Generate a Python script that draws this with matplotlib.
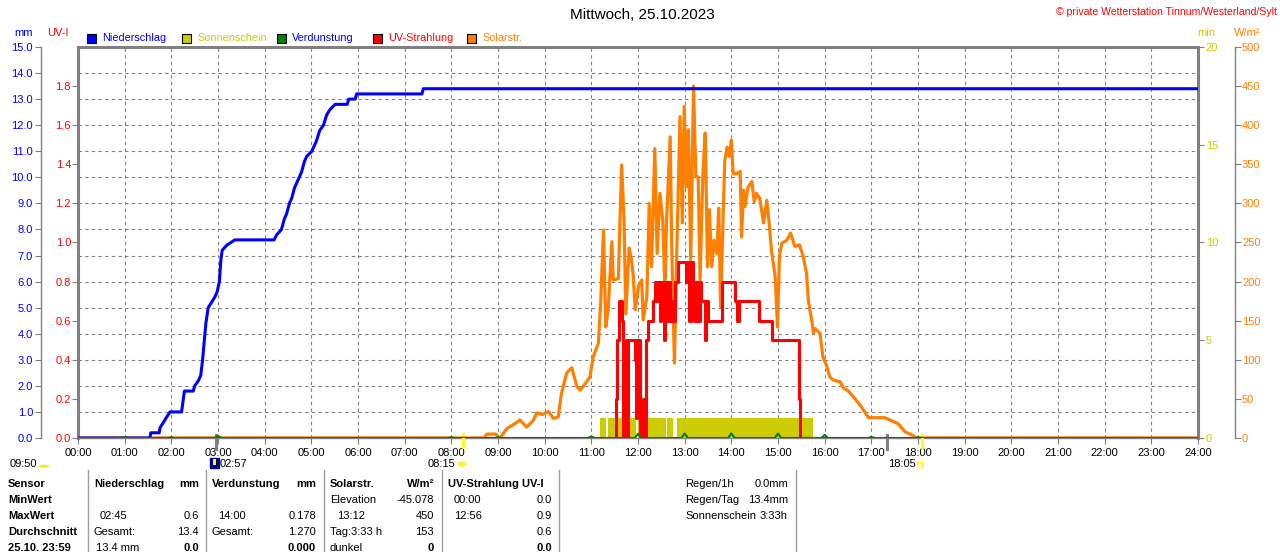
import matplotlib
matplotlib.use('Agg')
import matplotlib.pyplot as plt
from matplotlib.patches import Rectangle, Circle, Wedge
from matplotlib.lines import Line2D
import numpy as np

plt.rcParams['font.family'] = ['Liberation Sans', 'DejaVu Sans']
plt.rcParams['font.size'] = 8

# ---------------- data ----------------
hour_labels = [f"{h:02d}:00" for h in range(25)]

# Niederschlag (cumulative, mm)
rain_t = [0.0, 1.54, 1.56, 1.74, 1.76, 1.83, 1.90, 1.97, 2.22, 2.25, 2.28, 2.47, 2.50, 2.58,
          2.63, 2.67, 2.71, 2.74, 2.79, 2.86, 2.93, 2.98, 3.03, 3.06, 3.09, 3.19, 3.36,
          4.20, 4.26, 4.36, 4.42, 4.47, 4.53, 4.58, 4.64, 4.69, 4.74, 4.79, 4.85, 4.90,
          5.01, 5.06, 5.11, 5.18, 5.26, 5.33, 5.40, 5.51, 5.77, 5.80, 5.94, 5.97, 7.37,
          7.40, 24.0]
rain_mm = [0.0, 0.0, 0.2, 0.2, 0.4, 0.6, 0.8, 1.0, 1.0, 1.4, 1.8, 1.8, 2.0, 2.2,
           2.4, 3.0, 3.8, 4.4, 5.0, 5.2, 5.4, 5.6, 6.0, 6.8, 7.2, 7.4, 7.6,
           7.6, 7.8, 8.0, 8.4, 8.6, 9.0, 9.2, 9.6, 9.8, 10.0, 10.2, 10.6, 10.8,
           11.0, 11.2, 11.4, 11.8, 12.0, 12.4, 12.6, 12.8, 12.8, 13.0, 13.0, 13.2, 13.2,
           13.4, 13.4]

# Verdunstung (mm) hourly values
evap_hours = [1, 2, 3, 8, 9, 11, 12, 13, 14, 15, 16, 17, 18]
evap_vals = [0.03, 0.03, 0.08, 0.03, 0.03, 0.06, 0.16, 0.17, 0.178, 0.17, 0.12, 0.04, 0.03]

# Sonnenschein (min) intervals
sun_start = [11.186, 11.36, 11.99, 12.63, 12.84]
sun_end = [11.31, 11.96, 12.60, 12.75, 15.75]
sun_val = [1, 1, 1, 1, 1]

# UV-Strahlung (UV-I)
uv_t = [0.0, 11.53, 11.56, 11.60, 11.65, 11.68, 11.74, 11.76, 11.79, 11.93, 11.96, 11.98,
        12.01, 12.03, 12.05, 12.10, 12.13, 12.17, 12.21, 12.33, 12.37, 12.40, 12.43, 12.47,
        12.50, 12.55, 12.58, 12.62, 12.66, 12.69, 12.73, 12.76, 12.80, 12.86, 13.03, 13.06,
        13.10, 13.13, 13.17, 13.20, 13.24, 13.28, 13.32, 13.36, 13.43, 13.46, 13.50, 13.80,
        14.07, 14.12, 14.16, 14.60, 14.87, 15.44, 15.48, 24.0]
uv_v = [0.0, 0.2, 0.5, 0.7, 0.6, 0.0, 0.5, 0.0, 0.5, 0.4, 0.1, 0.5,
        0.3, 0.5, 0.0, 0.2, 0.0, 0.5, 0.6, 0.7, 0.8, 0.7, 0.8, 0.6,
        0.8, 0.5, 0.8, 0.6, 0.8, 0.6, 0.7, 0.6, 0.8, 0.9, 0.8, 0.9,
        0.6, 0.9, 0.8, 0.6, 0.8, 0.6, 0.8, 0.7, 0.5, 0.7, 0.6, 0.8,
        0.7, 0.6, 0.7, 0.6, 0.5, 0.2, 0.0, 0.0]

# Solarstrahlung (W/m2)
solar_t = [0.0, 8.70, 8.76, 8.95, 9.04, 9.19, 9.35, 9.47, 9.61, 9.75, 9.83, 9.95, 10.08,
           10.19, 10.29, 10.36, 10.47, 10.58, 10.69, 10.76, 10.90, 10.97, 11.04, 11.15,
           11.20, 11.26, 11.31, 11.36, 11.44, 11.47, 11.58, 11.61, 11.65, 11.70, 11.74,
           11.81, 11.86, 11.90, 11.94, 12.01, 12.08, 12.11, 12.19, 12.24, 12.29, 12.36,
           12.41, 12.47, 12.53, 12.58, 12.61, 12.69, 12.72, 12.78, 12.83, 12.90, 12.95,
           12.99, 13.04, 13.08, 13.13, 13.19, 13.24, 13.29, 13.33, 13.39, 13.44, 13.49,
           13.53, 13.58, 13.63, 13.69, 13.73, 13.77, 13.83, 13.86, 13.91, 13.96, 14.00,
           14.04, 14.11, 14.19, 14.22, 14.26, 14.29, 14.36, 14.44, 14.49, 14.54, 14.61,
           14.69, 14.76, 14.81, 14.86, 14.94, 14.99, 15.03, 15.08, 15.19, 15.27, 15.36,
           15.46, 15.54, 15.61, 15.65, 15.72, 15.76, 15.79, 15.90, 15.96, 16.04, 16.11,
           16.19, 16.33, 16.40, 16.51, 16.61, 16.76, 16.94, 17.29, 17.40, 17.58, 17.72,
           17.90, 17.95, 24.0]
solar_w = [0, 0, 5, 5, 0, 12, 18, 23, 14, 22, 32, 30, 34,
           25, 27, 57, 83, 90, 66, 61, 72, 78, 104, 121,
           172, 266, 142, 164, 251, 202, 204, 270, 349, 279, 159,
           243, 228, 206, 164, 194, 202, 151, 181, 300, 219, 370,
           236, 313, 279, 185, 275, 385, 253, 96, 236, 411, 275,
           424, 321, 394, 228, 450, 334, 334, 202, 338, 390, 219,
           292, 219, 253, 236, 294, 168, 296, 355, 372, 360, 381,
           338, 338, 341, 257, 317, 296, 321, 328, 302, 313, 306,
           275, 304, 275, 240, 206, 142, 232, 249, 253, 262, 245,
           247, 232, 211, 176, 151, 134, 140, 134, 104, 93, 78,
           74, 72, 64, 60, 53, 42, 26, 26, 23, 18, 8,
           3, 0, 0]

# Astronomical events (hours)
sun_events = [8.25, 18.083]
moon_events = [2.95, 17.33]

# ---------------- figure ----------------
W, H = 1280, 552
fig = plt.figure(figsize=(W / 100, H / 100), dpi=100)
fig.patch.set_facecolor('white')

L, R, T, B = 78, 1198, 47, 438
pos = [L / W, 1 - B / H, (R - L) / W, (B - T) / H]
GRAY = '#808080'
C_BLUE, C_SUN, C_GREEN, C_RED, C_ORANGE = '#0000FF', '#CCCC00', '#008000', '#FF0000', '#FF8000'

ax_grid = fig.add_axes(pos, zorder=0)
ax_min = fig.add_axes(pos, zorder=1, sharex=ax_grid)
ax_w = fig.add_axes(pos, zorder=2, sharex=ax_grid)
ax_uv = fig.add_axes(pos, zorder=3, sharex=ax_grid)
ax_mm = fig.add_axes(pos, zorder=4, sharex=ax_grid)

for a in (ax_min, ax_w, ax_uv, ax_mm):
    a.patch.set_visible(False)
    for s in a.spines.values():
        s.set_visible(False)
    a.tick_params(axis='x', bottom=False, labelbottom=False)

# grid axes
ax_grid.set_xlim(0, 24)
ax_grid.set_ylim(0, 15)
ax_grid.set_xticks(range(25))
ax_grid.set_xticklabels(hour_labels)
ax_grid.set_yticks(np.arange(0, 16, 1))
ax_grid.tick_params(axis='y', left=False, labelleft=False)
ax_grid.tick_params(axis='x', length=4, color=GRAY, pad=3.5, labelsize=8)
ax_grid.grid(True, color=GRAY, linestyle=(0, (3, 3)), linewidth=0.8)
for k in ('top', 'left', 'right'):
    ax_grid.spines[k].set_color(GRAY)
    ax_grid.spines[k].set_linewidth(2.2)
ax_grid.spines['bottom'].set_color(GRAY)
ax_grid.spines['bottom'].set_linewidth(1)

# mm axis
ax_mm.set_ylim(0, 15)
ax_mm.spines['left'].set_visible(True)
ax_mm.spines['left'].set_position(('axes', (40.7 - L) / (R - L)))
ax_mm.spines['left'].set_color(GRAY)
ax_mm.spines['left'].set_linewidth(1)
ax_mm.set_yticks(np.arange(0, 15.1, 1))
ax_mm.set_yticklabels([f"{v:.1f}" for v in np.arange(0, 15.1, 1)])
ax_mm.tick_params(axis='y', length=4, color=GRAY, pad=1.5, labelcolor=C_BLUE, labelsize=8)

# UV axis
ax_uv.set_ylim(0, 2.0)
uv_ticks = np.arange(0, 1.81, 0.2)
ax_uv.set_yticks(uv_ticks)
ax_uv.set_yticklabels([f"{v:.1f}" for v in uv_ticks])
ax_uv.tick_params(axis='y', length=4, color=GRAY, pad=1, labelcolor=C_RED, labelsize=8)

# min axis
ax_min.set_ylim(0, 20)
ax_min.yaxis.tick_right()
ax_min.set_yticks([0, 5, 10, 15, 20])
ax_min.tick_params(axis='y', length=4, color=GRAY, pad=1.5, labelcolor=C_SUN, labelsize=8)

# W/m2 axis
ax_w.set_ylim(0, 500)
ax_w.yaxis.tick_right()
ax_w.spines['right'].set_visible(True)
ax_w.spines['right'].set_position(('axes', (1235 - L) / (R - L)))
ax_w.spines['right'].set_color(GRAY)
ax_w.spines['right'].set_linewidth(1)
ax_w.set_yticks(np.arange(0, 501, 50))
ax_w.tick_params(axis='y', length=4, color=GRAY, pad=1, labelcolor=C_ORANGE, labelsize=8)

# ---------------- series ----------------
ax_min.bar(sun_start, sun_val, width=np.subtract(sun_end, sun_start), align='edge',
           color=C_SUN, linewidth=0)
ax_w.plot(solar_t, solar_w, color=C_ORANGE, lw=2.3)
ax_uv.plot(uv_t, uv_v, color=C_RED, lw=2.2, drawstyle='steps-post')
ax_mm.plot(rain_t, rain_mm, color=C_BLUE, lw=2.2)

# evaporation spikes
ev_x, ev_y = [0.0], [0.0]
for h, v in zip(evap_hours, evap_vals):
    ev_x += [h - 0.07, h, h + 0.07]
    ev_y += [0.0, v, 0.0]
ev_x.append(24.0)
ev_y.append(0.0)
ax_mm.plot(ev_x, ev_y, color=C_GREEN, lw=1.5)

# event marks on the time axis
xt = ax_grid.get_xaxis_transform()
for t in sun_events:
    ax_grid.plot([t, t], [0.010, -0.024], transform=xt, color='#FFFF00', lw=2.0,
                 clip_on=False, zorder=5)
for t in moon_events:
    ax_grid.plot([t, t], [0.008, -0.028], transform=xt, color=GRAY, lw=2.2,
                 clip_on=False, zorder=5)

# ---------------- texts ----------------
def ftext(x, y, s, **kw):
    kw.setdefault('va', 'center')
    kw.setdefault('size', 8)
    fig.text(x / W, 1 - y / H, s, **kw)

ftext(642, 15, "Mittwoch, 25.10.2023", ha='center', size=11)
ftext(1277, 12, "© private Wetterstation Tinnum/Westerland/Sylt", ha='right', color=C_RED, size=7.6)

ftext(14, 33, "mm", color=C_BLUE)
ftext(47, 33, "UV-I", color=C_RED)
ftext(1197, 33, "min", color=C_SUN)
ftext(1234, 33, "W/m²", color=C_ORANGE)

legend_items = [("Niederschlag", C_BLUE, C_BLUE, 87),
                ("Sonnenschein", C_SUN, C_SUN, 182),
                ("Verdunstung", C_GREEN, C_BLUE, 277),
                ("UV-Strahlung", C_RED, C_RED, 373),
                ("Solarstr.", C_ORANGE, C_ORANGE, 467)]
for name, fc, tc, x in legend_items:
    fig.add_artist(Rectangle((x / W, 1 - 42.5 / H), 9 / W, 9 / H, transform=fig.transFigure,
                             facecolor=fc, edgecolor='black', lw=0.8))
    ftext(x + 15, 38, name, color=tc, size=7.8)

# rise/set labels and icons
ftext(10, 464, "09:50")
fig.add_artist(Wedge((44 / W, 1 - 467 / H), 4.5 / W, 0, 180, transform=fig.transFigure,
                     facecolor='#FFFF00', edgecolor='#E0E000', lw=0.5))
fig.add_artist(Rectangle((210 / W, 1 - 468 / H), 9 / W, 10 / H, transform=fig.transFigure,
                         facecolor='#000080', edgecolor='#000080'))
fig.add_artist(Rectangle((213 / W, 1 - 465 / H), 3 / W, 6 / H, transform=fig.transFigure,
                         facecolor='#FFFF00', edgecolor='none'))
ftext(220, 464, "02:57")
ftext(428, 464, "08:15")
fig.add_artist(Circle((462 / W, 1 - 464 / H), 4 / W, transform=fig.transFigure,
                      facecolor='#FFFF00', edgecolor='#FFF060', lw=1.5))
ftext(888, 464, "18:05")
fig.add_artist(Rectangle((917 / W, 1 - 467 / H), 5 / W, 5 / H, transform=fig.transFigure,
                         facecolor='none', edgecolor='#FFFF00', lw=1))

# table separators
for x in (88, 206, 324, 442, 559, 796):
    fig.add_artist(Line2D([x / W, x / W], [1 - 470 / H, 0], transform=fig.transFigure,
                          color='#A0A0A0', lw=1))

rows = [484, 500, 516, 532, 548]
for y, s in zip(rows, ["Sensor", "MinWert", "MaxWert", "Durchschnitt", "25.10. 23:59"]):
    ftext(8, y, s, weight='bold')

# Niederschlag column
ftext(94, rows[0], "Niederschlag", weight='bold')
ftext(199, rows[0], "mm", weight='bold', ha='right')
ftext(100, rows[2], "02:45")
ftext(199, rows[2], "0.6", ha='right')
ftext(94, rows[3], "Gesamt:")
ftext(199, rows[3], "13.4", ha='right')
ftext(96, rows[4], "13.4 mm")
ftext(199, rows[4], "0.0", ha='right', weight='bold')

# Verdunstung column
ftext(212, rows[0], "Verdunstung", weight='bold')
ftext(316, rows[0], "mm", weight='bold', ha='right')
ftext(218, rows[2], "14:00")
ftext(316, rows[2], "0.178", ha='right')
ftext(212, rows[3], "Gesamt:")
ftext(316, rows[3], "1.270", ha='right')
ftext(316, rows[4], "0.000", ha='right', weight='bold')

# Solar column
ftext(330, rows[0], "Solarstr.", weight='bold')
ftext(434, rows[0], "W/m²", weight='bold', ha='right')
ftext(330, rows[1], "Elevation")
ftext(434, rows[1], "-45.078", ha='right')
ftext(337, rows[2], "13:12")
ftext(434, rows[2], "450", ha='right')
ftext(330, rows[3], "Tag:3:33 h")
ftext(434, rows[3], "153", ha='right')
ftext(330, rows[4], "dunkel")
ftext(434, rows[4], "0", ha='right', weight='bold')

# UV column
ftext(448, rows[0], "UV-Strahlung UV-I", weight='bold')
ftext(454, rows[1], "00:00")
ftext(552, rows[1], "0.0", ha='right')
ftext(454, rows[2], "12:56")
ftext(552, rows[2], "0.9", ha='right')
ftext(552, rows[3], "0.6", ha='right')
ftext(552, rows[4], "0.0", ha='right', weight='bold')

# summary
ftext(685, rows[0], "Regen/1h")
ftext(788, rows[0], "0.0mm", ha='right')
ftext(685, rows[1], "Regen/Tag")
ftext(788, rows[1], "13.4mm", ha='right')
ftext(685, rows[2], "Sonnenschein")
ftext(788, rows[2], "3:33h", ha='right')

fig.savefig('out.png', dpi=100, facecolor='white')
